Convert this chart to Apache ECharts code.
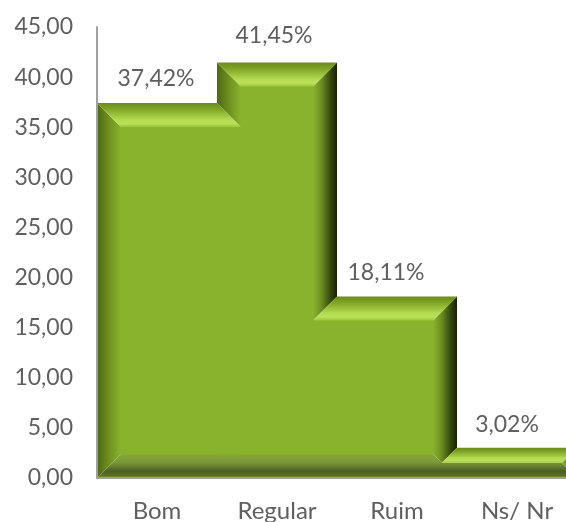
<!DOCTYPE html>
<html>
<head>
<meta charset="utf-8">
<style>html,body{margin:0;padding:0;background:#fff;overflow:hidden}#c{width:566px;height:522px}</style>
<script src="https://cdn.jsdelivr.net/npm/echarts@6/dist/echarts.min.js"></script>
</head>
<body>
<div id="c"></div>
<script>
const categories = ['Bom', 'Regular', 'Ruim', 'Ns/ Nr'];
const values = [37.42, 41.45, 18.11, 3.02];
const tickStep = 5;
const tickMax = 45;

const labelNudgeX = [-1, -3, -11, -10];
const labelNudgeY = [0, -3, 0, 1];
const BEVEL = 24, FONT = 'Lato, "Open Sans", sans-serif', TEXT = '#5f5f5f', AXIS = '#a0a0a0';
const FACE = '#8ab32d';
const topStops = [[0, '#6b8b1c'], [0.25, '#7fa324'], [0.7, '#b4dc52'], [0.85, '#b9e258'], [1, '#9cc63a']];
const leftStops = [[0, '#4e6814'], [0.5, '#6f9020'], [1, FACE]];
const rightStops = [[0, FACE], [0.35, '#6d8d21'], [0.7, '#3a4c10'], [1, '#162003']];
const bottomStops = [[0, '#86a838'], [0.35, '#7a9738'], [0.72, '#4c5e22'], [0.9, '#5a7122'], [1, '#84a92c']];

const grad = (x0, y0, x1, y1, stops) => new echarts.graphic.LinearGradient(
  x0, y0, x1, y1, stops.map(s => ({ offset: s[0], color: s[1] })), true);
const poly = (points, fill) => ({ type: 'polygon', shape: { points }, style: { fill, stroke: null } });
const comma = v => v.toFixed(2).replace('.', ',');

function geom(api, i) {
  if (i < 0 || i >= values.length) return null;
  const w = api.size([1, 0])[0];
  const p = api.coord([i, values[i]]);
  const base = api.coord([i, 0])[1];
  const b = Math.min(BEVEL, (base - p[1]) / 2);
  return { x0: p[0] - w / 2, x1: p[0] + w / 2, cx: p[0], yt: p[1], base, b, yIn: p[1] + b, yBot: base - b };
}

function renderItem(params, api) {
  const i = params.dataIndex;
  const g = geom(api, i), prev = geom(api, i - 1), next = geom(api, i + 1);
  const prevHigher = prev && prev.yt < g.yt, nextHigher = next && next.yt < g.yt;
  const xL = prevHigher ? g.x0 - g.b : g.x0 + g.b;
  const xR = nextHigher ? g.x1 + g.b : g.x1 - g.b;
  const kids = [];
  const leftFill = grad(g.x0, 0, g.x0 + g.b, 0, leftStops);
  const rightFill = grad(g.x1 - g.b, 0, g.x1, 0, rightStops);

  // bottom bevel
  const bottomFill = grad(0, g.base - BEVEL, 0, g.base, bottomStops);
  const bottom = [];
  if (prev) bottom.push([prevHigher ? g.x0 - g.b : g.x0 - 1, g.base], [prevHigher ? g.x0 - g.b : g.x0 - 1, g.yBot]);
  else bottom.push([g.x0, g.base], [g.x0 + g.b, g.yBot]);
  if (next) {
    if (next.b < g.b) bottom.push([g.x1 - g.b, g.yBot], [g.x1 - next.b, next.yBot], [g.x1, g.base]);
    else bottom.push([g.x1, g.yBot], [g.x1, g.base]);
  } else bottom.push([g.x1 - g.b, g.yBot], [g.x1, g.base]);
  kids.push(poly(bottom, bottomFill));

  // flat face
  if (g.yBot > g.yIn) {
    kids.push({
      type: 'rect',
      shape: { x: xL - 0.5, y: g.yIn - 0.5, width: xR - xL + 1, height: g.yBot - g.yIn + 1 },
      style: { fill: FACE }
    });
  }

  // left wall
  if (!prev) {
    kids.push(poly([[g.x0, g.yt], [g.x0 + g.b, g.yIn], [g.x0 + g.b, g.yBot], [g.x0, g.base]], leftFill));
  } else if (!prevHigher) {
    kids.push(poly([[g.x0, g.yt], [g.x0 + g.b, g.yIn], [g.x0 + prev.b, prev.yIn], [g.x0, prev.yt]], leftFill));
  }

  // right wall
  if (!next) {
    kids.push(poly([[g.x1, g.yt], [g.x1 - g.b, g.yIn], [g.x1 - g.b, g.yBot], [g.x1, g.base]], rightFill));
  } else if (!nextHigher) {
    kids.push(poly([
      [g.x1, g.yt], [g.x1 - g.b, g.yIn],
      [g.x1 - g.b, Math.min(g.yBot, next.yIn)], [g.x1 - next.b, next.yIn], [g.x1, next.yt]
    ], rightFill));
  }

  // top bevel
  kids.push(poly([[g.x0, g.yt], [g.x1, g.yt], [xR, g.yIn], [xL, g.yIn]], grad(0, g.yt, 0, g.yIn, topStops)));

  // value label
  kids.push({
    type: 'text',
    z2: 10,
    style: {
      text: comma(values[i]) + '%',
      x: g.cx + labelNudgeX[i], y: g.yt - 24 + labelNudgeY[i],
      align: 'center', verticalAlign: 'middle',
      fill: TEXT, font: '23px ' + FONT
    }
  });
  return { type: 'group', children: kids };
}

const chart = echarts.init(document.getElementById('c'), null, { renderer: 'canvas' });
chart.setOption({
  animation: false,
  backgroundColor: '#fff',
  grid: { left: 97, top: 27, width: 480, height: 451, outerBoundsMode: 'none' },
  xAxis: {
    type: 'category',
    data: categories,
    z: 5,
    axisTick: { show: false },
    axisLine: { show: true, lineStyle: { color: AXIS, width: 2 } },
    axisLabel: { color: TEXT, fontFamily: FONT, fontSize: 24, margin: 21, interval: 0 }
  },
  yAxis: {
    type: 'value',
    min: 0, max: tickMax, interval: tickStep,
    z: 5,
    splitLine: { show: false },
    axisTick: { show: false },
    axisLine: { show: true, lineStyle: { color: AXIS, width: 2 } },
    axisLabel: { color: TEXT, fontFamily: FONT, fontSize: 23, margin: 24, formatter: v => comma(v) }
  },
  series: [{
    type: 'custom',
    coordinateSystem: 'cartesian2d',
    clip: false,
    renderItem,
    encode: { x: 0, y: 1 },
    data: values.map((v, i) => [i, v])
  }]
});
</script>
</body>
</html>
